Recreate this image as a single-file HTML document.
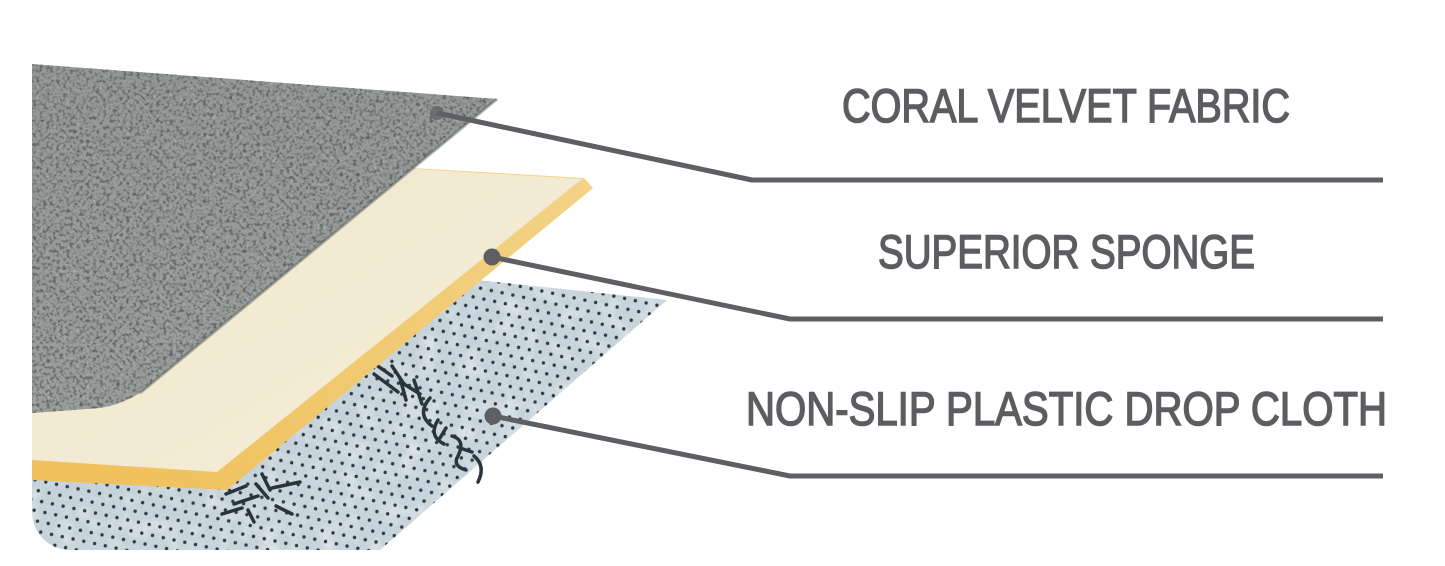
<!DOCTYPE html>
<html>
<head>
<meta charset="utf-8">
<style>
  html,body{margin:0;padding:0;background:#ffffff;}
  body{width:1445px;height:566px;overflow:hidden;}
  svg{display:block;}
  .lbl{font-family:"Liberation Sans",Arial,sans-serif;font-size:47px;fill:#5c5d61;stroke:#5c5d61;stroke-width:1.5px;}
</style>
</head>
<body>
<svg width="1445" height="566" viewBox="0 0 1445 566" xmlns="http://www.w3.org/2000/svg">
  <defs>
    <filter id="tex" x="0" y="0" width="100%" height="100%" color-interpolation-filters="sRGB">
      <feTurbulence type="fractalNoise" baseFrequency="0.3" numOctaves="3" seed="7" result="n"/>
      <feColorMatrix in="n" type="matrix" values="0 0 0 0 0.36  0 0 0 0 0.39  0 0 0 0 0.38  3.5 0 0 0 -1.65" result="d"/>
      <feComposite in="d" in2="SourceGraphic" operator="in" result="dc"/>
      <feColorMatrix in="n" type="matrix" values="0 0 0 0 0.72  0 0 0 0 0.74  0 0 0 0 0.73  0 -3 0 0 1.15" result="l"/>
      <feComposite in="l" in2="SourceGraphic" operator="in" result="lc"/>
      <feMerge><feMergeNode in="SourceGraphic"/><feMergeNode in="lc"/><feMergeNode in="dc"/></feMerge>
    </filter>
    <filter id="btex" x="0" y="0" width="100%" height="100%" color-interpolation-filters="sRGB">
      <feTurbulence type="fractalNoise" baseFrequency="0.05" numOctaves="2" seed="3" result="n"/>
      <feColorMatrix in="n" type="matrix" values="0 0 0 0 1  0 0 0 0 1  0 0 0 0 1  0.9 0 0 0 -0.4" result="d"/>
      <feComposite in="d" in2="SourceGraphic" operator="in" result="dc"/>
      <feMerge><feMergeNode in="SourceGraphic"/><feMergeNode in="dc"/></feMerge>
    </filter>
    <pattern id="dots" width="11" height="20" patternUnits="userSpaceOnUse" patternTransform="rotate(12)">
      <circle cx="2" cy="2" r="1.7" fill="#2f3b45"/>
      <circle cx="7.5" cy="12" r="1.7" fill="#2f3b45"/>
    </pattern>
    <linearGradient id="grayg" x1="0" y1="0" x2="0" y2="1">
      <stop offset="0" stop-color="#939897"/>
      <stop offset="1" stop-color="#9a9d9c"/>
    </linearGradient>
    <linearGradient id="blueg" x1="0" y1="0" x2="1" y2="1">
      <stop offset="0" stop-color="#c3d0d8"/>
      <stop offset="1" stop-color="#cad6de"/>
    </linearGradient>
    <linearGradient id="yelg" x1="1" y1="0" x2="0" y2="1">
      <stop offset="0" stop-color="#f3d489"/>
      <stop offset="1" stop-color="#efc05a"/>
    </linearGradient>
    <linearGradient id="creamg" x1="0" y1="0" x2="1" y2="1">
      <stop offset="0" stop-color="#efe7cd"/>
      <stop offset="1" stop-color="#f5edd6"/>
    </linearGradient>
  </defs>

  <!-- Blue plastic drop cloth -->
  <path d="M32,233 L667,300 L380,550 L70,550 A38,38 0 0 1 32,512 Z" fill="url(#blueg)" filter="url(#btex)"/>
  <path d="M32,233 L667,300 L380,550 L70,550 A38,38 0 0 1 32,512 Z" fill="url(#dots)"/>

  <!-- scribble marks on blue -->
  <g stroke="#2a343d" stroke-width="3.5" fill="none" stroke-linecap="round">
    <path d="M372,362 L392,376 M374,374 L398,392 M392,366 L404,384"/>
    <path d="M400,378 L406,400 M404,384 L420,394 M414,380 L422,404"/>
    <path d="M430,398 Q416,414 432,426"/>
    <path d="M438,420 Q428,436 444,444 M446,428 L440,438"/>
    <path d="M452,436 Q466,440 458,456 Q452,466 466,470 M460,448 L472,452"/>
    <path d="M474,456 Q486,466 478,482"/>
    <path d="M226,494 L246,486 M234,504 L258,496 M222,514 L242,508 M256,484 L268,498 M262,474 L270,490 M272,488 L300,482 M276,506 L292,514 M248,510 L254,522"/>
  </g>

  <!-- Sponge: yellow body -->
  <path d="M32,146 L584,178 L593,188 L227,490 L32,480 Z" fill="url(#yelg)"/>
  <!-- Sponge: cream top face -->
  <path d="M32,146 L582,179 L217,472 L32,460 Z" fill="url(#creamg)"/>

  <!-- Coral velvet fabric -->
  <path d="M32,64 L497,99 L140,393 Q120,405 100,408 L32,413 Z" fill="url(#grayg)" filter="url(#tex)"/>
  <path d="M497,99 L140,393" stroke="#5f6563" stroke-width="3" opacity="0.5" fill="none"/>

  <!-- Connectors -->
  <g stroke="#5e5f63" fill="none" stroke-linejoin="round">
    <path d="M437,113 L752,180 L1383,180" stroke-width="5"/>
    <path d="M492,257 L790,319 L1383,319" stroke-width="5"/>
    <path d="M493,416 L790,476 L1383,476" stroke-width="5"/>
  </g>
  <g fill="#5e5f63">
    <circle cx="437" cy="113" r="7" opacity="0.7"/>
    <circle cx="492" cy="257" r="8.5"/>
    <circle cx="493" cy="416" r="8.5"/>
  </g>

  <!-- Labels -->
  <text class="lbl" x="842" y="122" textLength="448" lengthAdjust="spacingAndGlyphs">CORAL VELVET FABRIC</text>
  <text class="lbl" x="878" y="268" textLength="377" lengthAdjust="spacingAndGlyphs">SUPERIOR SPONGE</text>
  <text class="lbl" x="746" y="425" textLength="641" lengthAdjust="spacingAndGlyphs">NON-SLIP PLASTIC DROP CLOTH</text>
</svg>
</body>
</html>
